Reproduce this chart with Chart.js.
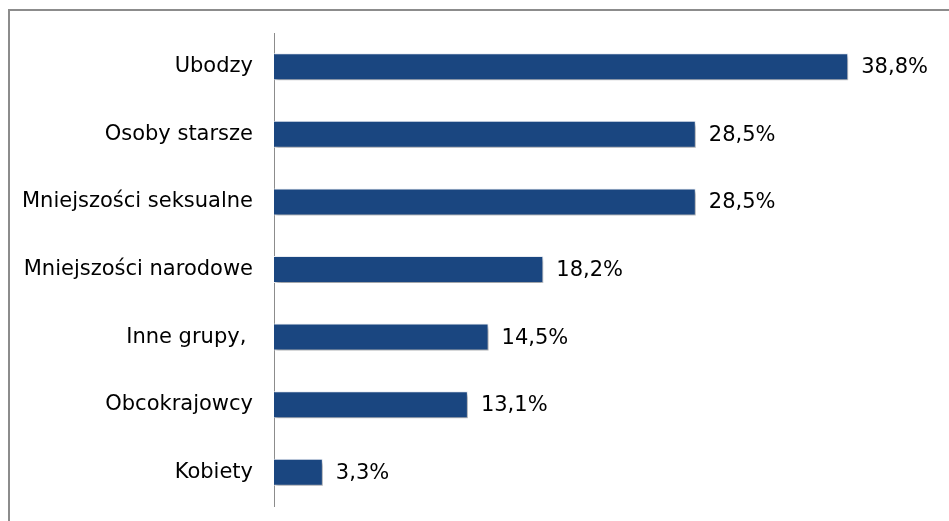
<!DOCTYPE html>
<html>
<head>
<meta charset="utf-8">
<script src="https://cdn.jsdelivr.net/npm/chart.js@4/dist/chart.umd.min.js"></script>
<style>
	html, body { margin: 0; padding: 0; background: #fff; }
	#wrap { position: relative; width: 949px; height: 521px; }
	#frame { position: absolute; left: 8px; top: 9px; right: 0; bottom: 0; border-top: 2px solid #8c8c8c; border-left: 2px solid #8c8c8c; }
	canvas { position: absolute; left: 0; top: 0; }
</style>
</head>
<body>
<div id="wrap">
	<div id="frame"></div>
	<canvas id="chart" width="949" height="521"></canvas>
</div>
<script>
const categories = ['Ubodzy', 'Osoby starsze', 'Mniejszości seksualne', 'Mniejszości narodowe', 'Inne grupy, ', 'Obcokrajowcy', 'Kobiety'];
const values = [38.8, 28.5, 28.5, 18.2, 14.5, 13.1, 3.3];
const valueLabels = ['38,8%', '28,5%', '28,5%', '18,2%', '14,5%', '13,1%', '3,3%'];

const fontFamily = '"DejaVu Sans", Verdana, sans-serif';
const fontSize = 21;

// shadow under the bars
const barShadow = {
	id: 'barShadow',
	beforeDatasetDraw(chart) {
		let ctx = chart.ctx;
		ctx.save();
		ctx.shadowColor = 'rgba(0,0,0,0.3)';
		ctx.shadowBlur = 3;
		ctx.shadowOffsetX = 2;
		ctx.shadowOffsetY = 3;
	},
	afterDatasetDraw(chart) {
		chart.ctx.restore();
	}
};

// value text at bar ends
const barValues = {
	id: 'barValues',
	afterDatasetsDraw(chart) {
		let ctx = chart.ctx;
		let meta = chart.getDatasetMeta(0);
		ctx.save();
		ctx.font = fontSize + 'px ' + fontFamily;
		ctx.fillStyle = '#000';
		ctx.textAlign = 'left';
		ctx.textBaseline = 'middle';
		meta.data.forEach((bar, i) => {
			ctx.fillText(valueLabels[i], bar.x + 13, bar.y + 1);
		});
		ctx.restore();
	}
};

const ctx = document.getElementById('chart').getContext('2d');
new Chart(ctx, {
	type: 'bar',
	data: {
		labels: categories,
		datasets: [{
			data: values,
			backgroundColor: '#1a4680',
			borderColor: '#e8ecf2',
			borderWidth: 1,
			barPercentage: 0.8,
			categoryPercentage: 0.5
		}]
	},
	options: {
		indexAxis: 'y',
		responsive: false,
		animation: false,
		layout: { padding: { left: 0, right: 83, top: 33, bottom: 15 } },
		plugins: {
			legend: { display: false },
			tooltip: { enabled: false }
		},
		scales: {
			x: {
				display: false,
				min: 0,
				max: 40
			},
			y: {
				afterFit(scale) {
					scale.width = 274;
					scale.paddingTop = 0;
					scale.paddingBottom = 0;
				},
				grid: { display: false, drawTicks: false },
				border: { display: true, color: '#8c8c8c', width: 1 },
				ticks: {
					color: '#000',
					padding: 21,
					font: { family: fontFamily, size: fontSize }
				}
			}
		}
	},
	plugins: [barShadow, barValues]
});
</script>
</body>
</html>
